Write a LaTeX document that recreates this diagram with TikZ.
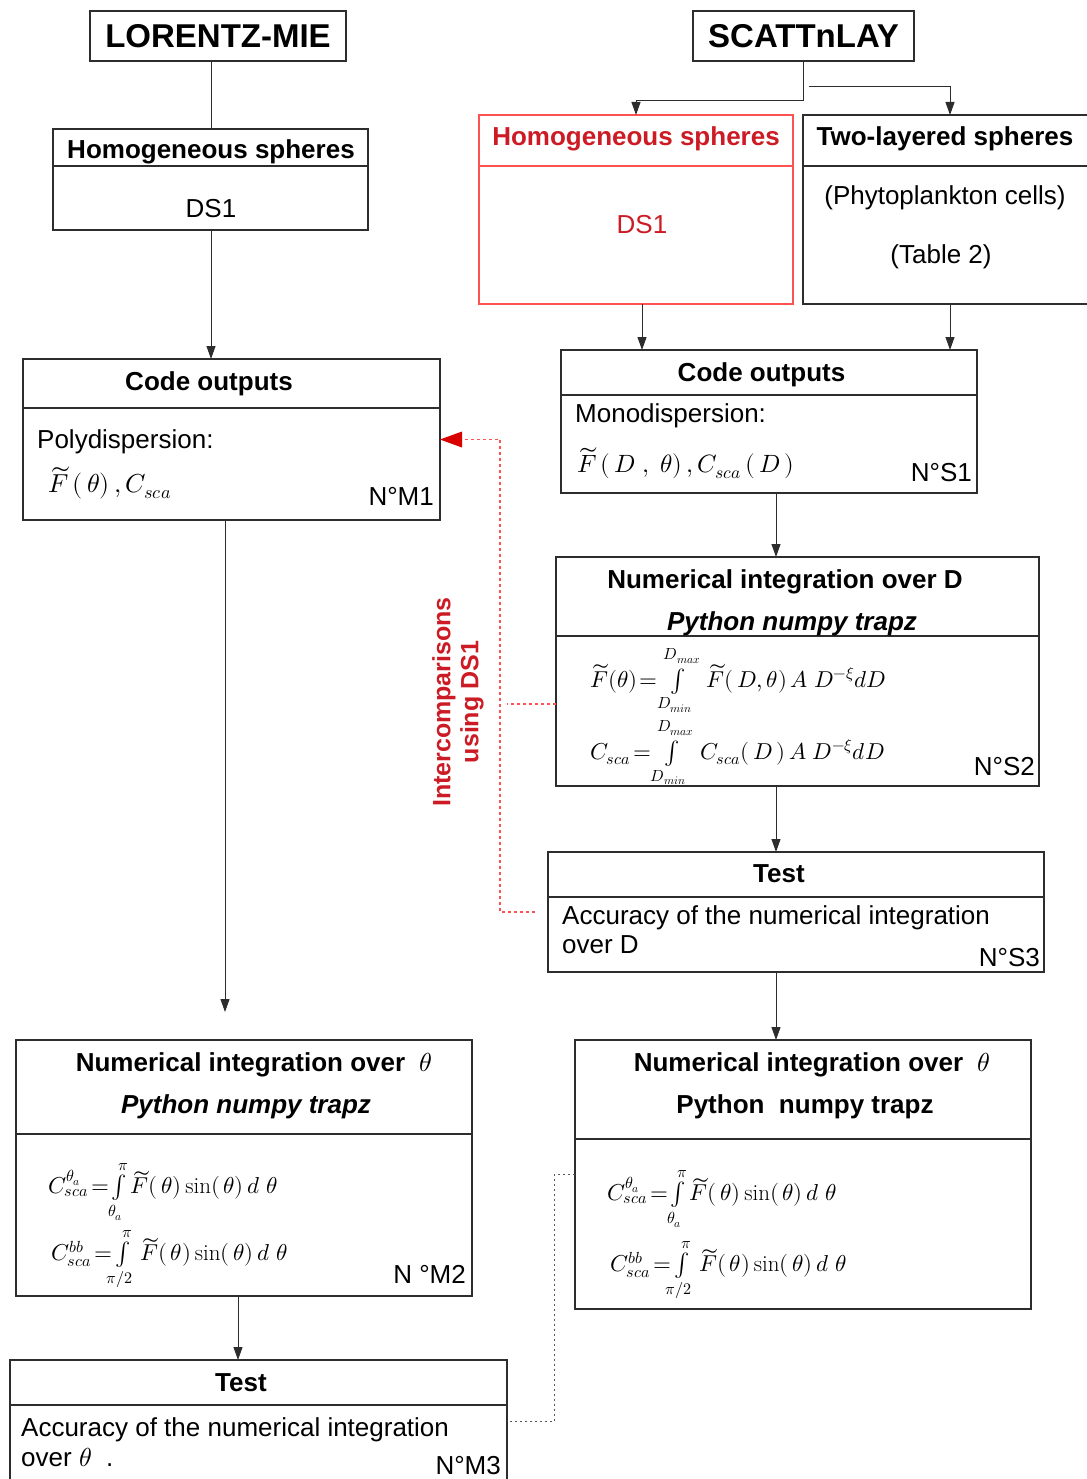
\documentclass[tikz,border=0pt]{standalone}
\usepackage{fontspec}
\usepackage{unicode-math}
\setmainfont{Liberation Sans}
\setmathfont{Latin Modern Math}
\setmathrm{Latin Modern Roman}
\usetikzlibrary{arrows.meta,positioning}

\definecolor{redtxt}{RGB}{204,27,36}
\definecolor{redline}{RGB}{255,82,82}
\definecolor{boxline}{RGB}{45,45,45}

\begin{document}
\begin{tikzpicture}[x=1pt,y=-1pt,
  box/.style={draw=boxline, line width=1.2pt, outer sep=0pt, inner sep=0pt},
  ttl/.style={font=\fontsize{26}{30}\selectfont\bfseries, anchor=base},
  txt/.style={font=\fontsize{26}{30}\selectfont, anchor=base west, inner sep=0pt},
  num/.style={font=\fontsize{26}{30}\selectfont, anchor=base east, inner sep=0pt},
  eq/.style={font=\fontsize{23}{26}\selectfont, anchor=west, inner sep=0pt},
  arr/.style={-{Triangle[length=13pt,width=9pt]}, line width=1pt, draw=boxline},
  reddot/.style={draw=redline, line width=1.3pt, dash pattern=on 3pt off 3pt},
  graydot/.style={draw=black!65, line width=1pt, dash pattern=on 2.5pt off 2.5pt}]

\useasboundingbox (0,0) rectangle (1086,1479);

% spines of the connectors
\coordinate (lsA) at (211,0);
\coordinate (lsB) at (225,0);
\coordinate (lsC) at (238,0);
\coordinate (rsA) at (642,0);
\coordinate (rsB) at (950,0);
\coordinate (rsC) at (776,0);
\coordinate (redx) at (500,0);

% left column
\node[box, minimum width=256pt, minimum height=50pt, font=\fontsize{33}{36}\selectfont\bfseries] (lor) at (218,36) {LORENTZ-MIE};

\node[box, minimum width=315pt, minimum height=101pt] (lhom) at (210.5,179.5) {};
\draw[boxline, line width=1.2pt] ([yshift=-37pt]lhom.north west) -- ([yshift=-37pt]lhom.north east);
\node[ttl] (lhomt) at (211,159) {Homogeneous spheres};
\node[ttl, font=\fontsize{26}{30}\selectfont] (lhomd) at (211,218) {DS1};

\node[box, minimum width=417pt, minimum height=161pt] (lcode) at (231.5,439.5) {};
\draw[boxline, line width=1.2pt] ([yshift=-49pt]lcode.north west) -- ([yshift=-49pt]lcode.north east);
\node[ttl] (lcodet) at (209,390) {Code outputs};
\node[txt] (lpoly) at (37,448) {Polydispersion:};
\node[eq, font=\fontsize{26}{30}\selectfont] (lpolyf) at (48,483) {$\widetilde{F}\,(\,\theta)\,, C_{sca}$};
\node[num] (lm1) at (434,505) {N°M1};

\node[box, minimum width=456pt, minimum height=256pt] (lint) at (244,1168) {};
\draw[boxline, line width=1.2pt] ([yshift=-94pt]lint.north west) -- ([yshift=-94pt]lint.north east);
\node[ttl] (lintt) at (254,1071) {Numerical integration over \ \mdseries$\theta$};
\node[ttl, font=\fontsize{26}{30}\selectfont\bfseries\itshape] (lintp) at (246,1113) {Python numpy trapz};
\node[eq] (lintfa) at (48,1192) {$C_{sca}^{\theta_a}\!=\!\int\limits_{\theta_a}^{\pi}\widetilde{F}(\,\theta)\sin(\,\theta)\,d\;\theta$};
\node[eq] (lintfb) at (51,1259) {$C_{sca}^{bb}\!=\!\!\int\limits_{\pi/2}^{\pi}\widetilde{F}(\,\theta)\sin(\,\theta)\,d\;\theta$};
\node[num] (lm2) at (466,1283) {N °M2};

\node[box, minimum width=497pt, minimum height=123pt] (ltest) at (258.5,1421.5) {};
\draw[boxline, line width=1.2pt] ([yshift=-45pt]ltest.north west) -- ([yshift=-45pt]ltest.north east);
\node[ttl] (ltestt) at (241,1391) {Test};
\node[txt] (ltesta) at (21,1436) {Accuracy of the numerical integration};
\node[txt] (ltestb) at (21,1466) {over $\theta$ \ .};
\node[num] (lm3) at (501,1474) {N°M3};

% right column
\node[box, minimum width=221pt, minimum height=50pt, font=\fontsize{33}{36}\selectfont\bfseries] (scat) at (803.5,36) {SCATTnLAY};

\node[box, draw=redline, minimum width=314pt, minimum height=189pt] (rhom) at (636,209.5) {};
\draw[redline, line width=1.2pt] ([yshift=-51pt]rhom.north west) -- ([yshift=-51pt]rhom.north east);
\node[ttl, text=redtxt] (rhomt) at (636,146) {Homogeneous spheres};
\node[ttl, text=redtxt, font=\fontsize{26}{30}\selectfont] (rhomd) at (642,234) {DS1};

\node[box, minimum width=287pt, minimum height=189pt] (two) at (946.5,209.5) {};
\draw[boxline, line width=1.2pt] ([yshift=-51pt]two.north west) -- ([yshift=-51pt]two.north east);
\node[ttl] (twot) at (945,146) {Two-layered spheres};
\node[ttl, font=\fontsize{26}{30}\selectfont] (twop) at (945,205) {(Phytoplankton cells)};
\node[ttl, font=\fontsize{26}{30}\selectfont] (twotab) at (941,263) {(Table 2)};

\node[box, minimum width=416pt, minimum height=143pt] (rcode) at (769,421.5) {};
\draw[boxline, line width=1.2pt] ([yshift=-45pt]rcode.north west) -- ([yshift=-45pt]rcode.north east);
\node[ttl] (rcodet) at (761.5,381) {Code outputs};
\node[txt] (rmono) at (575,422) {Monodispersion:};
\node[eq, font=\fontsize{25}{30}\selectfont] (rmonof) at (577,463) {$\widetilde{F}\,(\,D\;,\;\theta)\,, C_{sca}\,(\,D\,)$};
\node[num] (rs1) at (972,481) {N°S1};

\node[box, minimum width=483pt, minimum height=229pt] (rintd) at (797.5,671.5) {};
\draw[boxline, line width=1.2pt] ([yshift=-79pt]rintd.north west) -- ([yshift=-79pt]rintd.north east);
\node[ttl] (rintdt) at (785,588) {Numerical integration over D};
\node[ttl, font=\fontsize{26}{30}\selectfont\bfseries\itshape] (rintdp) at (792,630) {Python numpy trapz};
\node[eq] (rintdfa) at (590,681) {$\widetilde{F}(\theta)\!=\!\int\limits_{D_{min}}^{D_{max}}\;\widetilde{F}(\,D,\theta)\,A\;D^{-\xi}dD$};
\node[eq] (rintdfb) at (590,753) {$C_{sca}\!=\!\int\limits_{D_{min}}^{D_{max}}\;C_{sca}(\,D\,)\,A\;D^{-\xi}dD$};
\node[num] (rs2) at (1035,775) {N°S2};

\node[box, minimum width=496pt, minimum height=120pt] (rtest) at (796,912) {};
\draw[boxline, line width=1.2pt] ([yshift=-45pt]rtest.north west) -- ([yshift=-45pt]rtest.north east);
\node[ttl] (rtestt) at (779,882) {Test};
\node[txt] (rtesta) at (562,924) {Accuracy of the numerical integration};
\node[txt] (rtestb) at (562,953) {over D};
\node[num] (rs3) at (1040,966) {N°S3};

\node[box, minimum width=456pt, minimum height=269pt] (rint) at (803,1174.5) {};
\draw[boxline, line width=1.2pt] ([yshift=-99pt]rint.north west) -- ([yshift=-99pt]rint.north east);
\node[ttl] (rintt) at (812,1071) {Numerical integration over \ \mdseries$\theta$};
\node[ttl] (rintp) at (805,1113) {Python \ numpy trapz};
\node[eq] (rintfa) at (607,1199) {$C_{sca}^{\theta_a}\!=\!\int\limits_{\theta_a}^{\pi}\widetilde{F}(\,\theta)\sin(\,\theta)\,d\;\theta$};
\node[eq] (rintfb) at (610,1270) {$C_{sca}^{bb}\!=\!\!\int\limits_{\pi/2}^{\pi}\widetilde{F}(\,\theta)\sin(\,\theta)\,d\;\theta$};

% connectors
\draw[boxline, line width=1pt] (lhom.north -| lsA) -- (lor.south -| lsA);
\draw[arr] (lhom.south -| lsA) -- (lcode.north -| lsA);
\draw[arr, shorten >=28pt] (lcode.south -| lsB) -- (lint.north -| lsB);
\draw[arr] (lint.south -| lsC) -- (ltest.north -| lsC);

\draw[arr] (scat.south) -- ++(0,40) -| (rhom.north);
\draw[arr] ([xshift=5pt,yshift=-26pt]scat.south) -| (two.north -| rsB);
\draw[arr] (rhom.south -| rsA) -- (rcode.north -| rsA);
\draw[arr] (two.south -| rsB) -- (rcode.north -| rsB);
\draw[arr] (rcode.south -| rsC) -- (rintd.north -| rsC);
\draw[arr] (rintd.south -| rsC) -- (rtest.north -| rsC);
\draw[arr] (rtest.south -| rsC) -- (rint.north -| rsC);

% intercomparisons
\draw[reddot] ([xshift=-13pt]rtest.west) -| (lcode.east -| redx) -- ([xshift=20pt]lcode.east);
\draw[draw=none, fill=red!85!black] (lcode.east) -- ++(22,-8) -- ++(0,16) -- cycle;
\draw[reddot] ([yshift=-32.5pt]rintd.west) -- ++(-49,0);
\node[rotate=90, align=center, text=redtxt, font=\fontsize{25}{28}\selectfont\bfseries] (inter) at (458,702) {Intercomparisons\\using DS1};

\draw[graydot] (rint.west) -- ++(-21,0) |- (ltest.east);

\end{tikzpicture}
\end{document}
